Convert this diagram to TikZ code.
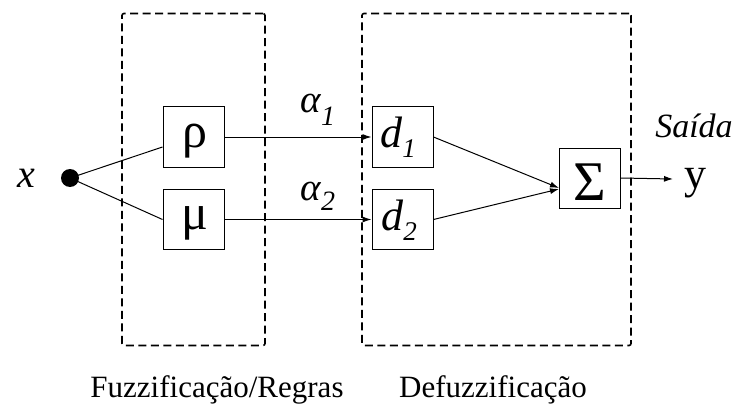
\documentclass[tikz,border=0pt]{standalone}
\usepackage{fontspec}
\setmainfont{Liberation Serif}
\usetikzlibrary{arrows.meta,calc}
\begin{document}
\begin{tikzpicture}[x=1pt,y=-1pt,
  blk/.style={draw,line width=1pt,minimum width=61pt,minimum height=60pt,inner sep=0pt},
  dashbox/.style={draw,line width=1.6pt,dash pattern=on 8pt off 4.5pt,rounded corners=2pt,inner sep=0pt},
  txt/.style={inner sep=0pt,anchor=base},
  conn/.style={line width=1pt},
  arr/.style={line width=1pt,-{Latex[length=9pt,width=6pt]}},
  lbl/.style={inner sep=0pt,anchor=base,font=\fontsize{31}{34}\selectfont}]
\useasboundingbox (0,0) rectangle (737,404);
% dashed groups
\node[dashbox,minimum width=143pt,minimum height=332pt] (fz) at (193.5,179.5) {};
\node[dashbox,minimum width=269pt,minimum height=332pt] (df) at (496.5,179.5) {};
% blocks
\node[blk] (rho) at (193.5,137) {};
\node[blk] (mu) at (193.5,219.5) {};
\node[blk] (d1) at (402.5,137) {};
\node[blk] (d2) at (402.5,219.5) {};
\node[blk] (sum) at (590,178) {};
% block texts
\node[txt,font=\fontsize{50}{50}\selectfont] (rhot) at (195,147) {ρ};
\node[txt,font=\fontsize{50}{50}\selectfont] (mut) at (195,229) {μ};
\node[txt,font=\fontsize{44}{44}\selectfont\itshape] (d1t) at (398,147) {d\raisebox{-10pt}{\fontsize{27}{27}\selectfont 1}};
\node[txt,font=\fontsize{44}{44}\selectfont\itshape] (d2t) at (399,230) {d\raisebox{-10pt}{\fontsize{27}{27}\selectfont 2}};
\node[txt,font=\fontsize{56}{56}\selectfont] (sumt) at (590,200) {Σ};
% input
\node[circle,fill=black,minimum size=18pt,inner sep=0pt] (dot) at (70,178) {};
\node[txt,font=\fontsize{40}{40}\selectfont\itshape] (xl) at (26,187) {x};
% outputs
\coordinate (yend) at (673,179);
\node[txt,anchor=base west,font=\fontsize{44}{44}\selectfont] (yl) at (684,188) {y};
\node[txt,font=\fontsize{34}{34}\selectfont\itshape] (sai) at (694,138) {Saída};
% alpha labels
\node[txt,font=\fontsize{39}{39}\selectfont\itshape] (a1) at (318,113) {α\raisebox{-13pt}{\fontsize{28}{28}\selectfont 1}};
\node[txt,font=\fontsize{39}{39}\selectfont\itshape] (a2) at (318,200) {α\raisebox{-10pt}{\fontsize{28}{28}\selectfont 2}};
% bottom labels
\node[lbl] (l1) at (217,397) {Fuzzificação/Regras};
\node[lbl] (l2) at (493,397) {Defuzzificação};
% connectors
\draw[conn] (dot.center) -- ([yshift=-10pt]rho.west);
\draw[conn] (dot.center) -- (mu.west);
\draw[arr] (rho.east) -- (d1.west);
\draw[arr] (mu.east) -- (d2.west);
\draw[arr] (d1.east) -- ([yshift=-10pt]sum.west);
\draw[arr] (d2.east) -- ([yshift=-11pt]sum.west);
\draw[arr] (sum.east) -- (yend);
\end{tikzpicture}
\end{document}
